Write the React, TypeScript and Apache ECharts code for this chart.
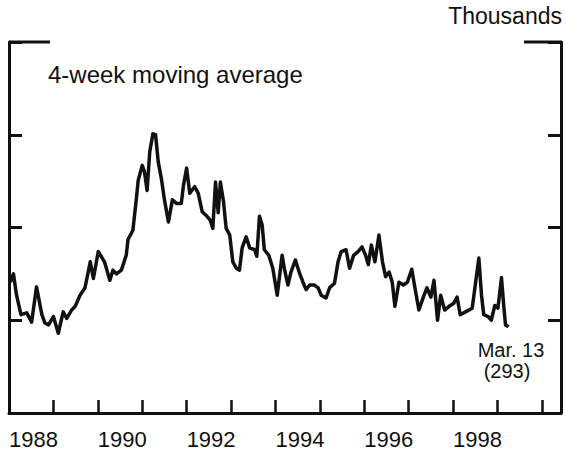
import React, { useEffect, useRef } from "react";
import * as echarts from "echarts";

// Decimal-year dates of readings (weekly claims, 4-week moving average)
const dates: number[] = [
  1988.03, 1988.10, 1988.17, 1988.27, 1988.40, 1988.51, 1988.62, 1988.74, 1988.81, 1988.89,
  1989.00, 1989.11, 1989.22, 1989.30, 1989.41, 1989.49, 1989.60, 1989.71, 1989.83, 1989.90,
  1990.01, 1990.15, 1990.27, 1990.34, 1990.42, 1990.53, 1990.64, 1990.68, 1990.79, 1990.87,
  1990.91, 1991.00, 1991.05, 1991.11, 1991.17, 1991.24, 1991.30, 1991.36, 1991.43, 1991.50,
  1991.59, 1991.68, 1991.77, 1991.88, 1991.93, 1992.00, 1992.07, 1992.18, 1992.26, 1992.35,
  1992.44, 1992.53, 1992.59, 1992.65, 1992.71, 1992.76, 1992.83, 1992.89, 1992.97, 1993.04,
  1993.12, 1993.19, 1993.25, 1993.34, 1993.42, 1993.53, 1993.58, 1993.64, 1993.70, 1993.75,
  1993.85, 1993.94, 1994.04, 1994.15, 1994.20, 1994.28, 1994.35, 1994.45, 1994.54, 1994.62,
  1994.69, 1994.77, 1994.88, 1994.96, 1995.03, 1995.14, 1995.22, 1995.33, 1995.41, 1995.48,
  1995.59, 1995.67, 1995.76, 1995.86, 1995.95, 1996.03, 1996.09, 1996.16, 1996.24, 1996.33,
  1996.41, 1996.48, 1996.56, 1996.63, 1996.69, 1996.78, 1996.88, 1996.97, 1997.07, 1997.14,
  1997.23, 1997.33, 1997.41, 1997.50, 1997.57, 1997.65, 1997.72, 1997.81, 1997.91, 1998.01,
  1998.09, 1998.16, 1998.28, 1998.43, 1998.50, 1998.58, 1998.64, 1998.69, 1998.79, 1998.86,
  1998.94, 1999.01, 1999.09, 1999.14, 1999.18, 1999.25,
];

// Thousands
const claims: number[] = [
  341, 350, 327, 306, 308, 298, 336, 306, 297, 295,
  304, 286, 309, 302, 311, 315, 327, 335, 363, 345,
  374, 363, 343, 354, 350, 354, 370, 387, 397, 432,
  451, 467, 460, 440, 482, 501, 500, 471, 453, 430,
  406, 430, 426, 426, 446, 464, 437, 444, 437, 417,
  413, 408, 399, 449, 416, 449, 428, 399, 392, 363,
  356, 354, 378, 390, 378, 376, 369, 412, 403, 376,
  370, 356, 327, 370, 356, 338, 352, 365, 351, 341,
  333, 338, 338, 335, 327, 324, 335, 340, 363, 374,
  376, 356, 370, 374, 379, 370, 360, 381, 363, 392,
  363, 347, 352, 341, 315, 341, 338, 341, 355, 335,
  311, 325, 335, 325, 343, 300, 327, 311, 315, 318,
  325, 306, 309, 313, 338, 367, 327, 306, 304, 300,
  316, 313, 346, 316, 295, 293,
];

const yearLabels: number[] = [1988, 1990, 1992, 1994, 1996, 1998];

const FONT = '"Liberation Sans", Arial, Helvetica, sans-serif';
const INK = "#111";

export default function App() {
  const ref = useRef<HTMLDivElement>(null);

  useEffect(() => {
    if (!ref.current) return;
    const chart = echarts.init(ref.current, null, { renderer: "svg" });
    const axisCommon = {
      type: "value" as const,
      min: 200,
      max: 600,
      interval: 100,
      axisLine: { show: true, lineStyle: { color: INK, width: 3 } },
      axisTick: { show: true, inside: true, length: 13, lineStyle: { color: INK, width: 3 } },
      axisLabel: { show: false },
      splitLine: { show: false },
    };
    chart.setOption({
      animation: false,
      backgroundColor: "#fff",
      grid: { left: 9, right: 5, top: 42, bottom: 39, containLabel: false },
      xAxis: {
        type: "value",
        min: 1988,
        max: 2000.43,
        interval: 1,
        axisLine: { show: true, lineStyle: { color: INK, width: 3 } },
        axisTick: { show: true, inside: true, length: 13, lineStyle: { color: INK, width: 2.5 } },
        splitLine: { show: false },
        axisLabel: {
          show: true,
          showMaxLabel: false,
          showMinLabel: true,
          align: "left",
          margin: 15,
          color: INK,
          fontFamily: FONT,
          fontSize: 22,
          formatter: (v: number) => (yearLabels.includes(v) ? String(v) : ""),
        },
      },
      yAxis: [
        { ...axisCommon, position: "left" },
        { ...axisCommon, position: "right" },
      ],
      graphic: [
        { type: "line", shape: { x1: 9, y1: 42, x2: 50, y2: 42 }, style: { stroke: INK, lineWidth: 3 } },
        { type: "line", shape: { x1: 524, y1: 42, x2: 561, y2: 42 }, style: { stroke: INK, lineWidth: 3 } },
        {
          type: "text",
          style: { text: "Thousands", x: 562, y: 16, align: "right", verticalAlign: "middle", fill: INK, font: `23px ${FONT}` },
        },
        {
          type: "text",
          style: { text: "4-week moving average", x: 48, y: 74, align: "left", verticalAlign: "middle", fill: INK, font: `24px ${FONT}` },
        },
        {
          type: "text",
          style: { text: "Mar. 13", x: 511, y: 350, align: "center", verticalAlign: "middle", fill: INK, font: `20px ${FONT}` },
        },
        {
          type: "text",
          style: { text: "(293)", x: 507, y: 371, align: "center", verticalAlign: "middle", fill: INK, font: `20px ${FONT}` },
        },
      ],
      series: [
        {
          type: "line",
          data: dates.map((d, i) => [d, claims[i]]),
          showSymbol: false,
          lineStyle: { color: INK, width: 3.5, join: "round" },
          yAxisIndex: 0,
        },
      ],
    });
    return () => chart.dispose();
  }, []);

  return (
    <div
      ref={ref}
      style={{ position: "fixed", left: 0, top: 0, width: 566, height: 452, background: "#fff" }}
    />
  );
}
